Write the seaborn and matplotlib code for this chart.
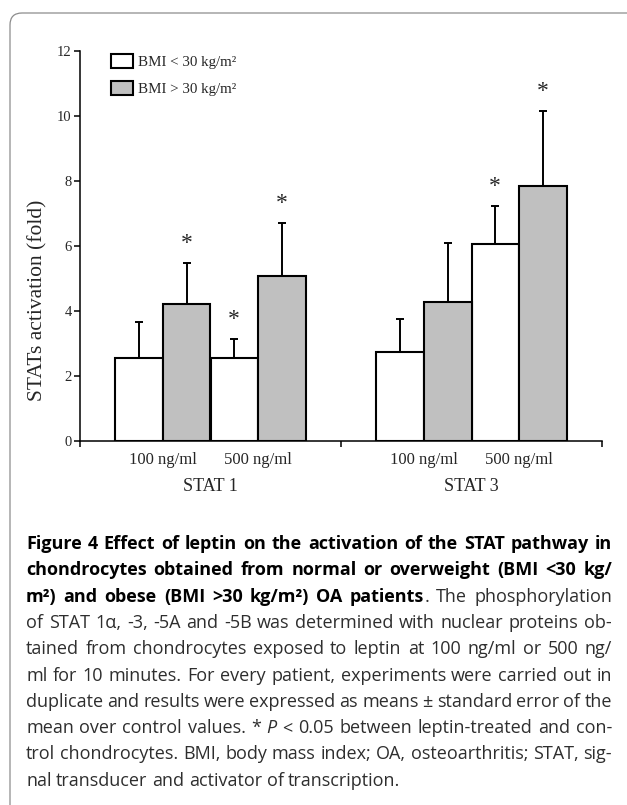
import matplotlib
matplotlib.use("Agg")
import matplotlib.pyplot as plt
from matplotlib.patches import Patch, FancyBboxPatch
import seaborn as sns
import pandas as pd
import numpy as np

# ---- data ----
groups = ["STAT 1", "STAT 3"]
doses = ["100 ng/ml", "500 ng/ml"]
bmi_levels = ["BMI < 30 kg/m\u00b2", "BMI > 30 kg/m\u00b2"]

# order: STAT1 100, STAT1 500, STAT3 100, STAT3 500
lean_mean = [2.56, 2.55, 2.73, 6.07]
obese_mean = [4.20, 5.08, 4.28, 7.85]
lean_sem = [1.10, 0.59, 1.01, 1.15]
obese_sem = [1.28, 1.64, 1.82, 2.30]
lean_sig = [False, True, False, True]
obese_sig = [True, True, False, True]

W, H = 627, 805
sns.set_theme(style="ticks")
plt.rcParams['font.family'] = ['Liberation Serif', 'DejaVu Serif']
plt.rcParams['axes.linewidth'] = 1.1

fig = plt.figure(figsize=(W / 100, H / 100), dpi=100)
ax = fig.add_axes([80 / W, 1 - 441 / H, 522 / W, 390 / H])

# pair centres inside each group (layout only)
pair_gap = 0.364
xpos = []
for g in range(len(groups)):
    for d in range(len(doses)):
        xpos.append(g + 0.5 + (d - 0.5) * pair_gap)

rows = []
for i, x in enumerate(xpos):
    rows.append({"x": x, "bmi": bmi_levels[0], "value": lean_mean[i]})
    rows.append({"x": x, "bmi": bmi_levels[1], "value": obese_mean[i]})
df = pd.DataFrame(rows)

colors = {bmi_levels[0]: "white", bmi_levels[1]: "#c0c0c0"}
sns.barplot(data=df, x="x", y="value", hue="bmi", hue_order=bmi_levels,
            palette=colors, native_scale=True, width=1.0, errorbar=None,
            edgecolor="black", linewidth=1.5, legend=False, ax=ax, zorder=3)

# upper-only error bars and significance stars
bar_w = pair_gap / 2
for h, (means, sems, sigs) in enumerate([(lean_mean, lean_sem, lean_sig),
                                         (obese_mean, obese_sem, obese_sig)]):
    cx = np.array(xpos) + (h - 0.5) * bar_w
    ax.errorbar(cx, means, yerr=[np.zeros(len(means)), sems], fmt="none",
                ecolor="black", elinewidth=1.4, capsize=3, capthick=1.4, zorder=2)
    for x, m, s, sig in zip(cx, means, sems, sigs):
        if sig:
            ax.annotate("*", (x, m + s), xytext=(0, 10), textcoords="offset points",
                        ha="center", va="baseline", fontsize=17)

ax.set_xlim(0, 2)
ax.set_ylim(0, 12)
ax.set_yticks(range(0, 13, 2))
ax.set_xticks([0, 1, 2])
ax.set_xticklabels([])
ax.set_xticks(xpos, minor=True)
ax.set_xticklabels(doses * len(groups), minor=True, fontsize=12)
ax.tick_params(axis="x", which="minor", length=0, pad=8)
ax.tick_params(axis="x", which="major", direction="out", length=4, width=1.1, color="black")
ax.tick_params(axis="y", direction="out", length=4, width=1.1, labelsize=10.5, pad=2, color="black")
ax.set_xlabel("")
ax.set_ylabel("STATs activation (fold)", fontsize=15.5)
ax.yaxis.set_label_coords(-0.062, 0.362)
for g, name in enumerate(groups):
    ax.annotate(name, (g + 0.5, 0), xycoords=("data", "axes fraction"),
                xytext=(0, -33), textcoords="offset points", ha="center", va="center",
                fontsize=13)
sns.despine(ax=ax)
for sp in ax.spines.values():
    sp.set_color("black")

handles = [Patch(facecolor=colors[b], edgecolor="black", linewidth=1.5) for b in bmi_levels]
ax.legend(handles, bmi_levels, loc="upper left", bbox_to_anchor=(0.0588, 0.993),
          frameon=False, fontsize=10.8, handlelength=1.5, handleheight=1.1,
          labelspacing=0.8, handletextpad=0.3, borderpad=0, borderaxespad=0)

# rounded panel border, running off the right and bottom edges
fig.patches.append(FancyBboxPatch((10, -100), 660, H - 13 + 100,
                                  boxstyle="round,pad=0,rounding_size=12",
                                  transform=None, fill=False, edgecolor="#8c8c8c",
                                  linewidth=0.9))

# ---- caption ----
B = "bold"
R = "normal"
I = "italic"
caption = [
    ([("Figure 4 Effect of leptin on the activation of the STAT pathway in", B)], True),
    ([("chondrocytes obtained from normal or overweight (BMI <30 kg/", B)], True),
    ([("m\u00b2) and obese (BMI >30 kg/m\u00b2) OA patients", B), (". The phosphorylation", R)], True),
    ([("of STAT 1\u03b1, -3, -5A and -5B was determined with nuclear proteins ob-", R)], True),
    ([("tained from chondrocytes exposed to leptin at 100 ng/ml or 500 ng/", R)], True),
    ([("ml for 10 minutes. For every patient, experiments were carried out in", R)], True),
    ([("duplicate and results were expressed as means \u00b1 standard error of the", R)], True),
    ([("mean over control values. * ", R), ("P", I), (" < 0.05 between leptin-treated and con-", R)], True),
    ([("trol chondrocytes. BMI, body mass index; OA, osteoarthritis; STAT, sig-", R)], True),
    ([("nal transducer and activator of transcription.", R)], False),
]

renderer = fig.canvas.get_renderer()
cap_font = ["Open Sans", "DejaVu Sans"]


def style_kw(style, size):
    kw = dict(family=cap_font, fontsize=size, color="#2e2e2e")
    if style == B:
        kw.update(fontweight="bold", color="black")
    elif style == I:
        kw.update(fontstyle="italic")
    return kw


def ink_width(text, style, size):
    t = fig.text(0, 0, text, **style_kw(style, size))
    w = t.get_window_extent(renderer).width
    t.remove()
    return w


# fit the font size to the unjustified last line (26 -> 400 px)
probe = 12.0
size = probe * 374 / ink_width(caption[-1][0][0][0], R, probe)
space_w = ink_width("a a", R, size) - ink_width("aa", R, size)

x0, x1 = 26, 612
base0, step = 549, 26.3
for i, (segs, justify) in enumerate(caption):
    words, cur = [], []
    for text, style in segs:
        for j, part in enumerate(text.split(" ")):
            if j > 0 and cur:
                words.append(cur)
                cur = []
            if part:
                cur.append((part, style))
    if cur:
        words.append(cur)
    widths = [[ink_width(p, s, size) for p, s in w] for w in words]
    total = sum(sum(w) + 0.8 * (len(w) - 1) for w in widths)
    gap = (x1 - x0 - total) / (len(words) - 1) if justify else space_w
    x = x0
    y = 1 - (base0 + i * step) / H
    for w, ws in zip(words, widths):
        for (p, s), pw in zip(w, ws):
            fig.text(x / W, y, p, va="baseline", ha="left", **style_kw(s, size))
            x += pw + 0.8
        x += gap - 0.8

fig.savefig("out.png", dpi=100)
